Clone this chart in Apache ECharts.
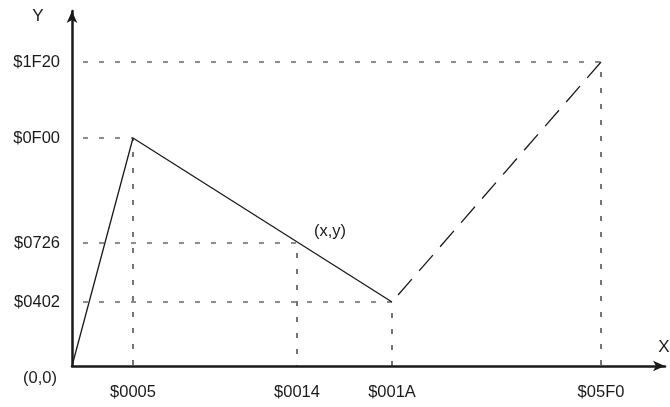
<!DOCTYPE html>
<html><head><meta charset="utf-8">
<script src="https://cdn.jsdelivr.net/npm/echarts@6/dist/echarts.min.js"></script>
<style>html,body{margin:0;padding:0;background:#fff}#c{width:670px;height:407px}</style>
</head><body><div id="c"></div>
<script>
// The diagram is schematic (not to scale): each labelled value sits at a position in chart units.
const xTickLabels = ['$0005', '$0014', '$001A', '$05F0'];
const xTickPos    = [61, 225, 320, 529];
const yTickLabels = ['$0402', '$0726', '$0F00', '$1F20'];
const yTickPos    = [64, 123, 228, 304];
// points as [x index, y index] into the tick arrays
const peakIdx   = [0, 2]; // ($0005, $0F00)
const markIdx   = [1, 1]; // ($0014, $0726)  (x,y)
const valleyIdx = [2, 0]; // ($001A, $0402)
const endIdx    = [3, 3]; // ($05F0, $1F20)
const originLabel = '(0,0)';
const pointLabel = '(x,y)';

const pt = (i) => [xTickPos[i[0]], yTickPos[i[1]]];
const xLabelOf = v => xTickLabels[xTickPos.indexOf(v)] || '';
const yLabelOf = v => yTickLabels[yTickPos.indexOf(v)] || '';

const FONT = 'Liberation Sans';
const INK = '#1a1a1a';
const FS = 16.5;

const guide = (p) => ({
  type: 'line', data: [[0, p[1]], p, [p[0], 0]], symbol: 'none', silent: true,
  lineStyle: { color: INK, width: 1.2, type: [5, 11], dashOffset: 5 }, z: 1
});

const chart = echarts.init(document.getElementById('c'), null, { renderer: 'canvas' });
chart.setOption({
  animation: false,
  backgroundColor: '#fff',
  grid: { left: 72, right: 5, top: 11, bottom: 41, outerBoundsMode: 'none', containLabel: false },
  xAxis: {
    type: 'value', min: 0, max: 593,
    name: 'X', nameLocation: 'end', nameGap: -1,
    nameTextStyle: { fontFamily: FONT, fontSize: 17, color: INK, align: 'center', verticalAlign: 'bottom', padding: [0, 0, 10, 0] },
    axisLine: { show: true, symbol: ['none', 'arrow'], symbolSize: [8, 12], lineStyle: { color: INK, width: 2.5 } },
    axisTick: { show: false },
    splitLine: { show: false },
    axisLabel: { customValues: xTickPos, formatter: xLabelOf, margin: 18, fontFamily: FONT, fontSize: FS, color: INK }
  },
  yAxis: {
    type: 'value', min: 0, max: 355,
    name: 'Y', nameLocation: 'end', nameGap: -14,
    nameTextStyle: { fontFamily: FONT, fontSize: 17, color: INK, padding: [0, 68, 0, 0] },
    axisLine: { show: true, symbol: ['none', 'arrow'], symbolSize: [8, 12], lineStyle: { color: INK, width: 2.5 } },
    axisTick: { show: false },
    splitLine: { show: false },
    axisLabel: { customValues: yTickPos, formatter: yLabelOf, margin: 12, fontFamily: FONT, fontSize: FS, color: INK }
  },
  series: [
    guide(pt(peakIdx)), guide(pt(markIdx)), guide(pt(valleyIdx)), guide(pt(endIdx)),
    { type: 'line', data: [[0, 0], pt(peakIdx), pt(valleyIdx)], symbol: 'none', clip: false,
      lineStyle: { color: INK, width: 1.3 }, z: 3 },
    { type: 'line', data: [pt(endIdx), pt(valleyIdx)], symbol: 'none', clip: false,
      lineStyle: { color: INK, width: 1.3, type: [21, 11] }, z: 3 },
    { type: 'scatter', symbolSize: 0, clip: false, silent: true, z: 4,
      itemStyle: { opacity: 1, color: INK },
      data: [
        { value: [0, 0], label: { show: true, formatter: originLabel, position: 'inside', offset: [-32, 12], color: INK, opacity: 1, fontFamily: FONT, fontSize: FS } },
        { value: pt(markIdx), label: { show: true, formatter: pointLabel, position: 'inside', offset: [33, -12], color: INK, opacity: 1, fontFamily: FONT, fontSize: FS } }
      ]
    }
  ]
});
</script></body></html>
